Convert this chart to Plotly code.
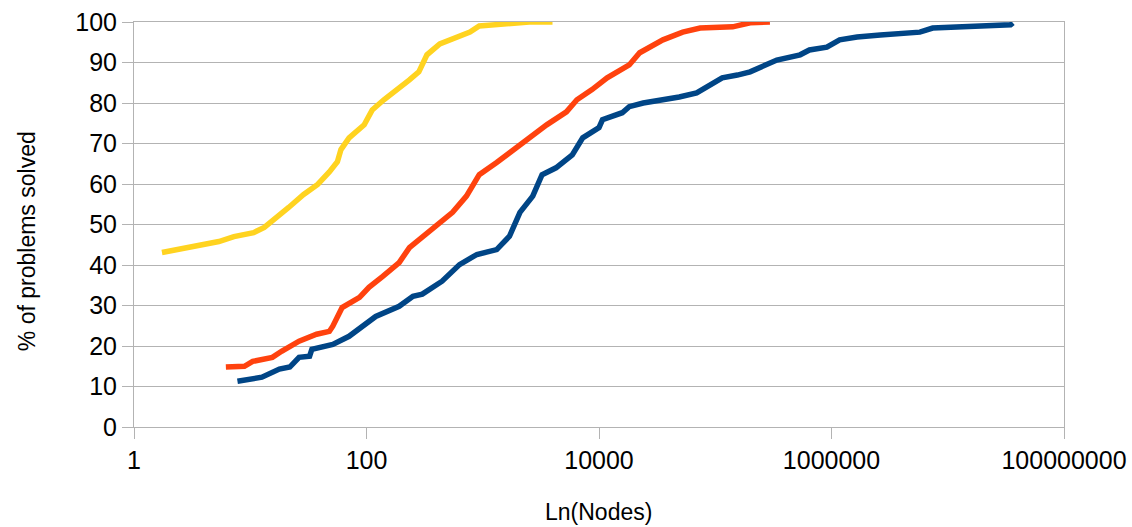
import plotly.graph_objects as go

# Node counts (x) and % of problems solved (y) for each series
yellow_nodes = [1.74, 2.19, 2.95, 3.98, 5.37, 7.24, 10.7, 13.2, 16.2, 21.4, 28.8, 38.0, 47.9, 56.2,
                60.3, 70.8, 95.5, 112, 141, 186, 234, 282, 331, 427, 575, 776, 933, 1380, 2512, 3981]
yellow_pct = [43.1, 43.6, 44.3, 45.0, 45.8, 47.0, 48.0, 49.3, 51.2, 54.2, 57.4, 59.9, 63.0, 65.5,
              68.5, 71.4, 74.6, 78.3, 80.8, 83.3, 85.7, 87.7, 91.9, 94.6, 96.0, 97.5, 99.0, 99.5, 100, 100]

orange_nodes = [6.17, 8.91, 10.5, 15.5, 18.6, 26.3, 37.2, 47.9, 51.3, 61.7, 87.1, 105, 138, 191, 234,
                372, 550, 724, 933, 1318, 1950, 2692, 3548, 5248, 6457, 8710, 11750, 18200, 22390,
                35480, 52480, 74130, 141250, 199500, 295100]
orange_pct = [14.8, 15.0, 16.2, 17.2, 18.7, 21.2, 22.9, 23.6, 24.9, 29.5, 32.0, 34.5, 37.2, 40.6, 44.3,
              48.8, 53.0, 57.0, 62.3, 65.3, 69.0, 71.7, 74.6, 77.8, 80.8, 83.3, 86.2, 89.4, 92.4,
              95.6, 97.5, 98.5, 98.8, 99.8, 100]

blue_nodes = [7.76, 12.6, 17.8, 21.9, 26.3, 32.4, 33.9, 51.3, 70.8, 100, 120, 191, 251, 302, 447, 631,
              891, 1318, 1698, 2089, 2692, 3236, 4266, 5888, 7244, 10000, 10720, 15850, 18200, 23990,
              38020, 48980, 69180, 89130, 114800, 154900, 199500, 338800, 537000, 645700, 912000,
              1175000, 1660000, 2630000, 5754000, 7413000, 13490000, 34670000, 36310000]
blue_pct = [11.3, 12.3, 14.3, 14.8, 17.2, 17.5, 19.2, 20.4, 22.4, 25.4, 27.3, 29.8, 32.3, 32.8, 36.0, 40.1,
            42.6, 43.8, 47.1, 53.0, 57.0, 62.3, 64.0, 67.2, 71.4, 73.9, 75.9, 77.6, 79.1, 80.0,
            80.8, 81.5, 82.5, 84.5, 86.2, 86.9, 87.7, 90.6, 91.9, 93.1, 93.8,
            95.6, 96.3, 96.8, 97.5, 98.5, 98.8, 99.3, 99.8]

x_ticks = [1, 100, 10000, 1000000, 100000000]
x_tick_labels = ["1", "100", "10000", "1000000", "100000000"]
y_ticks = [0, 10, 20, 30, 40, 50, 60, 70, 80, 90, 100]

fig = go.Figure()
for xs, ys, col in [(yellow_nodes, yellow_pct, "#FFD320"),
                    (orange_nodes, orange_pct, "#FF420E"),
                    (blue_nodes, blue_pct, "#004586")]:
    fig.add_trace(go.Scatter(x=xs, y=ys, mode="lines",
                             line=dict(color=col, width=5.5), showlegend=False))

font_main = "Liberation Sans, Arial, sans-serif"
fig.update_layout(
    width=1132, height=527,
    margin=dict(l=134, r=68, t=22, b=100),
    paper_bgcolor="white", plot_bgcolor="white",
    font=dict(family=font_main, color="#000000"),
)
fig.update_xaxes(type="log", range=[0, 8], tickvals=x_ticks, ticktext=x_tick_labels,
                 showgrid=False, showline=True, linecolor="#b3b3b3", linewidth=1, mirror=True,
                 ticks="outside", ticklen=11, tickcolor="#b3b3b3", automargin=False,
                 tickfont=dict(size=25, family=font_main, color="#000000"), zeroline=False)
fig.update_yaxes(range=[0, 100], tickvals=y_ticks,
                 showgrid=True, gridcolor="#b3b3b3", gridwidth=1,
                 showline=True, linecolor="#b3b3b3", linewidth=1, mirror=True,
                 ticks="outside", ticklen=11, tickcolor="#b3b3b3", automargin=False,
                 tickfont=dict(size=25, family=font_main, color="#000000"), zeroline=False)

fig.add_annotation(text="Ln(Nodes)", xref="paper", yref="paper", x=0.499, y=-0.21,
                   showarrow=False, font=dict(size=23, family=font_main, color="#000000"),
                   xanchor="center", yanchor="middle")
fig.add_annotation(text="% of problems solved", xref="paper", yref="paper", x=-0.115, y=0.459,
                   showarrow=False, textangle=-90,
                   font=dict(size=23, family=font_main, color="#000000"),
                   xanchor="center", yanchor="middle")

fig.write_html("out.html")
